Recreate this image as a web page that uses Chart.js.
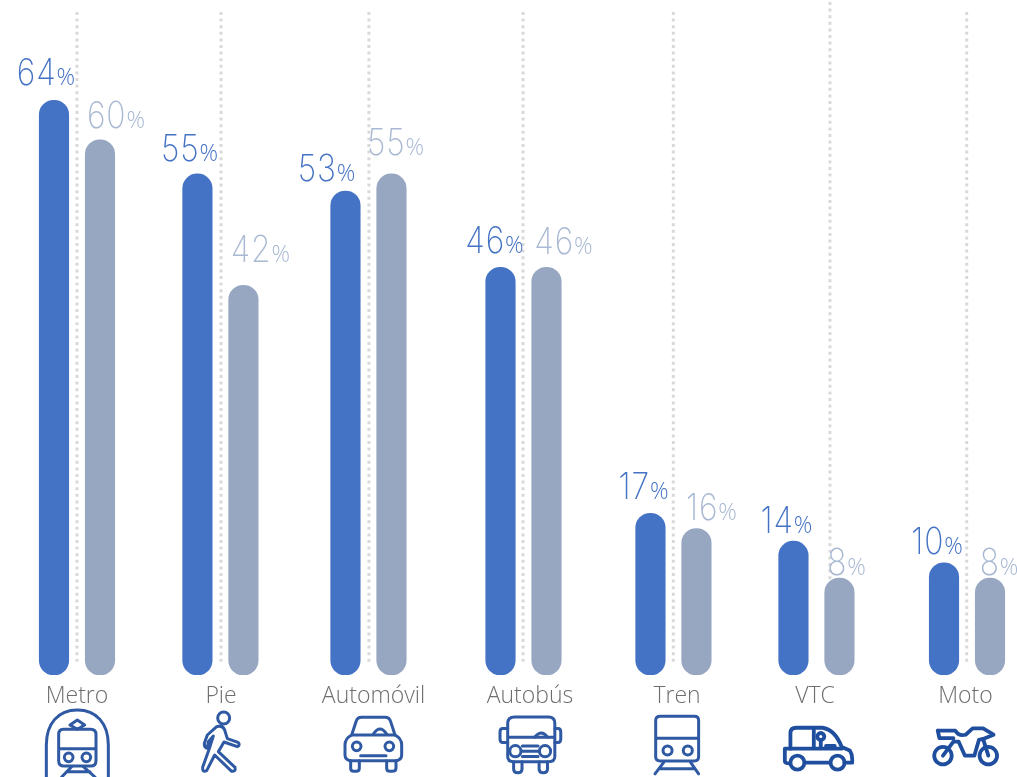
<!DOCTYPE html>
<html>
<head>
<meta charset="utf-8">
<title>Modos de transporte</title>
<script src="https://cdn.jsdelivr.net/npm/chart.js@4"></script>
<style>
  html, body { margin: 0; padding: 0; background: #fff; overflow: hidden; }
  canvas { display: block; }
</style>
</head>
<body>
<canvas id="chart" width="1017" height="777"></canvas>
<script>
const categories = ['Metro', 'Pie', 'Automóvil', 'Autobús', 'Tren', 'VTC', 'Moto'];

// printed percentages
const blueLabels = [64, 55, 53, 46, 17, 14, 10];
const grayLabels = [60, 42, 55, 46, 16, 8, 8];

// bar lengths (the original bars are not quite to scale)
const blueBars = [64.0, 55.8, 53.9, 45.4, 18.0, 14.9, 12.5];
const grayBars = [59.6, 43.4, 55.8, 45.4, 16.3, 10.8, 10.8];

// the groups are hand-spaced in the original, so x is a slot number on a linear axis
const groupSlots = [0, 0.967, 1.965, 3.010, 4.021, 4.985, 6.0];
const labelSlots = [0, 0.971, 1.999, 3.054, 4.045, 4.975, 5.990];
const guideSlots = [0, 0.971, 1.968, 3.007, 4.020, 5.076, 5.998];
const guideTops = [12, 12, 12, 12, 12, 2, 12];

// label nudges in px, relative to the top of each bar
const blueNudgeX = [-8, -8, -19, -6, -7, -7, -7];
const grayNudgeX = [16, 17, 4, 17, 15, 7, 9];
const blueNudgeY = [15, 13, 10, 14, 14, 8, 9];
const grayNudgeY = [12, 23, 19, 13, 9, 3, 3];

const BLUE = '#4472C4';
const GRAY = '#97A7C1';
const GRAY_TEXT = '#A9B9D3';
const ICON = '#2F5AA3';
const ICON_DARK = '#1F4E9E';

const guidePlugin = {
  id: 'guides',
  beforeDatasetsDraw(chart) {
    const { ctx, scales: { x, y } } = chart;
    ctx.save();
    ctx.strokeStyle = '#D9D9D9';
    ctx.lineWidth = 3;
    ctx.setLineDash([3, 3.6]);
    guideSlots.forEach((slot, i) => {
      const px = x.getPixelForValue(slot);
      ctx.beginPath();
      ctx.moveTo(px, guideTops[i]);
      ctx.lineTo(px, y.getPixelForValue(1.2));
      ctx.stroke();
    });
    ctx.restore();
  }
};

function drawPercent(ctx, value, cx, baseline, color, pctFont) {
  const digits = String(value);
  const squeeze = 0.86;
  const digitFont = '200 37px Inter';
  ctx.font = digitFont;
  ctx.letterSpacing = '1px';
  const dw = ctx.measureText(digits).width * squeeze;
  ctx.letterSpacing = '0px';
  ctx.font = pctFont;
  const pw = ctx.measureText('%').width;
  const left = cx - (dw + pw) / 2;
  ctx.fillStyle = color;
  ctx.textBaseline = 'alphabetic';
  ctx.textAlign = 'left';
  ctx.save();
  ctx.translate(left, baseline);
  ctx.scale(squeeze, 1);
  ctx.font = digitFont;
  ctx.letterSpacing = '1px';
  ctx.fillText(digits, 0, 0);
  ctx.restore();
  ctx.letterSpacing = '0px';
  ctx.font = pctFont;
  ctx.fillText('%', left + dw, baseline);
}

const percentPlugin = {
  id: 'percents',
  afterDatasetsDraw(chart) {
    const { ctx } = chart;
    const blue = chart.getDatasetMeta(0).data;
    const gray = chart.getDatasetMeta(1).data;
    ctx.save();
    categories.forEach((c, i) => {
      drawPercent(ctx, blueLabels[i], blue[i].x + blueNudgeX[i], blue[i].y - blueNudgeY[i], BLUE, '300 23px "Open Sans"');
      drawPercent(ctx, grayLabels[i], gray[i].x + grayNudgeX[i], gray[i].y - grayNudgeY[i], GRAY_TEXT, '300 23px "Open Sans"');
    });
    ctx.restore();
  }
};

const iconsLeft = [
  // Metro
  'M139 411 V315 C139 250 175 210 232 210 C289 210 325 250 325 315 V411',
  'M232 240 L254 255 L232 268 L210 255 Z',
  'M190 268 H272 Q288 268 288 284 V362 Q288 378 272 378 H192 Q176 378 176 362 V284 Q176 268 190 268 Z M176 326 H288',
  'M219 352 A13 13 0 1 1 193 352 A13 13 0 1 1 219 352 Z M272 352 A13 13 0 1 1 246 352 A13 13 0 1 1 272 352 Z',
  'M215 380 L185 411 M250 380 L285 411 M200 395 H270',
  // Pie
  'M689 234 A18 18 0 1 1 653 234 A18 18 0 1 1 689 234 Z',
  'M650 260 Q668 254 674 270 L682 296 L714 307 Q722 315 712 320 L672 306 L655 335 L705 382 Q708 395 695 394 L644 345 L620 392 Q606 398 608 382 L630 320 L640 288 L625 305 L622 325 Q612 322 613 310 L622 285 Z',
  // Automovil
  'M1055 285 L1068 245 Q1072 232 1085 232 H1155 Q1168 232 1172 245 L1185 285',
  'M1055 285 H1185 Q1205 295 1205 315 V345 Q1205 362 1185 362 H1055 Q1035 362 1035 345 V315 Q1035 295 1055 285 Z',
  'M1083 319 A13 13 0 1 1 1057 319 A13 13 0 1 1 1083 319 Z M1181 319 A13 13 0 1 1 1155 319 A13 13 0 1 1 1181 319 Z',
  'M1082 347 H1158 M1120 282 Q1140 252 1160 282',
  'M1052 362 V385 Q1052 394 1062 394 H1068 Q1078 394 1078 385 V362 M1160 362 V385 Q1160 394 1170 394 H1176 Q1188 394 1188 385 V362'
];
const iconsRight = [
  // Autobus
  'M108 290 V250 Q108 232 128 232 H225 Q243 232 243 250 V345 Q243 360 225 360 H125 Q108 360 108 345 Z M108 290 H243',
  'M108 265 H94 Q86 265 86 275 V295 Q86 305 94 305 H108 M243 265 H252 Q260 265 260 275 V295 Q260 305 252 305 H243',
  'M185 290 Q205 266 222 290 M150 315 H195 M150 330 H195 M150 345 H195',
  'M146 330 A16 16 0 1 1 114 330 A16 16 0 1 1 146 330 Z M231 330 A16 16 0 1 1 199 330 A16 16 0 1 1 231 330 Z',
  'M125 360 V382 Q125 392 137 392 Q149 392 149 382 V360 M198 360 V382 Q198 392 210 392 Q222 392 222 382 V360',
  // Tren
  'M545 230 H643 Q655 230 655 242 V346 Q655 358 643 358 H545 Q532 358 532 346 V242 Q532 230 545 230 Z M532 293 H655',
  'M579 328 A13 13 0 1 1 553 328 A13 13 0 1 1 579 328 Z M637 328 A13 13 0 1 1 611 328 A13 13 0 1 1 637 328 Z',
  'M555 362 L530 395 M632 362 L655 395 M545 380 H640'
];
const iconsBold = [
  // VTC
  'M918 320 V275 Q918 260 935 260 H1010 Q1045 265 1065 315 L1088 325 Q1095 335 1095 350 V360 H1073',
  'M918 320 H1065 M918 320 H902 V355 Q902 362 916 362 M960 360 H1032 M985 262 V318 M1005 297 V318 M1020 312 H1045',
  'M1015 285 A10 10 0 1 1 995 285 A10 10 0 1 1 1015 285 Z',
  'M958 360 A20 20 0 1 1 918 360 A20 20 0 1 1 958 360 Z M1073 360 A20 20 0 1 1 1033 360 A20 20 0 1 1 1073 360 Z',
  // Moto
  'M1380 340 A25 25 0 1 1 1330 340 A25 25 0 1 1 1380 340 Z M1510 340 A25 25 0 1 1 1460 340 A25 25 0 1 1 1510 340 Z',
  'M1340 268 H1390 Q1400 285 1420 280 L1440 262 H1470 L1500 280 L1470 292 L1485 340 M1355 340 L1385 300 H1400 L1418 340 H1445 L1458 295 L1470 292 M1340 268 L1345 290 H1385'
];

const iconPlugin = {
  id: 'icons',
  afterDraw(chart) {
    const { ctx } = chart;
    const draw = (paths, ox, oy, zoom, color, width) => {
      ctx.save();
      ctx.translate(ox, oy);
      ctx.scale(1 / zoom, 1 / zoom);
      ctx.strokeStyle = color;
      ctx.lineWidth = width * zoom;
      ctx.lineJoin = 'round';
      ctx.lineCap = 'round';
      paths.forEach(p => ctx.stroke(new Path2D(p)));
      ctx.restore();
    };
    draw(iconsLeft, 0, 640, 3, ICON, 3);
    draw(iconsRight, 470, 636, 2.865, ICON, 3);
    draw(iconsBold, 470, 637, 2.865, ICON_DARK, 3.8);
  }
};

new Chart(document.getElementById('chart'), {
  type: 'bar',
  data: {
    datasets: [
      { data: categories.map((c, i) => ({ x: groupSlots[i], y: blueBars[i] })), backgroundColor: BLUE },
      { data: categories.map((c, i) => ({ x: groupSlots[i], y: grayBars[i] })), backgroundColor: GRAY }
    ]
  },
  options: {
    responsive: false,
    animation: false,
    layout: { padding: 0 },
    datasets: {
      bar: { barThickness: 46, maxBarThickness: 29.5, borderRadius: 14.75, borderSkipped: false, borderWidth: 0 }
    },
    plugins: { legend: { display: false }, tooltip: { enabled: false } },
    scales: {
      x: {
        type: 'linear',
        offset: false,
        min: -0.519,
        max: 6.337,
        grid: { display: false },
        border: { display: false },
        afterBuildTicks: axis => { axis.ticks = labelSlots.map(v => ({ value: v })); },
        afterFit: axis => { axis.height = 102; },
        ticks: {
          autoSkip: false,
          maxRotation: 0,
          padding: 0,
          color: '#6E6E6E',
          font: { family: 'Open Sans', weight: '300', size: 23 },
          callback: (value, index) => categories[index]
        }
      },
      y: { display: false, min: 0, max: 75.17 }
    }
  },
  plugins: [guidePlugin, percentPlugin, iconPlugin]
});
</script>
</body>
</html>
